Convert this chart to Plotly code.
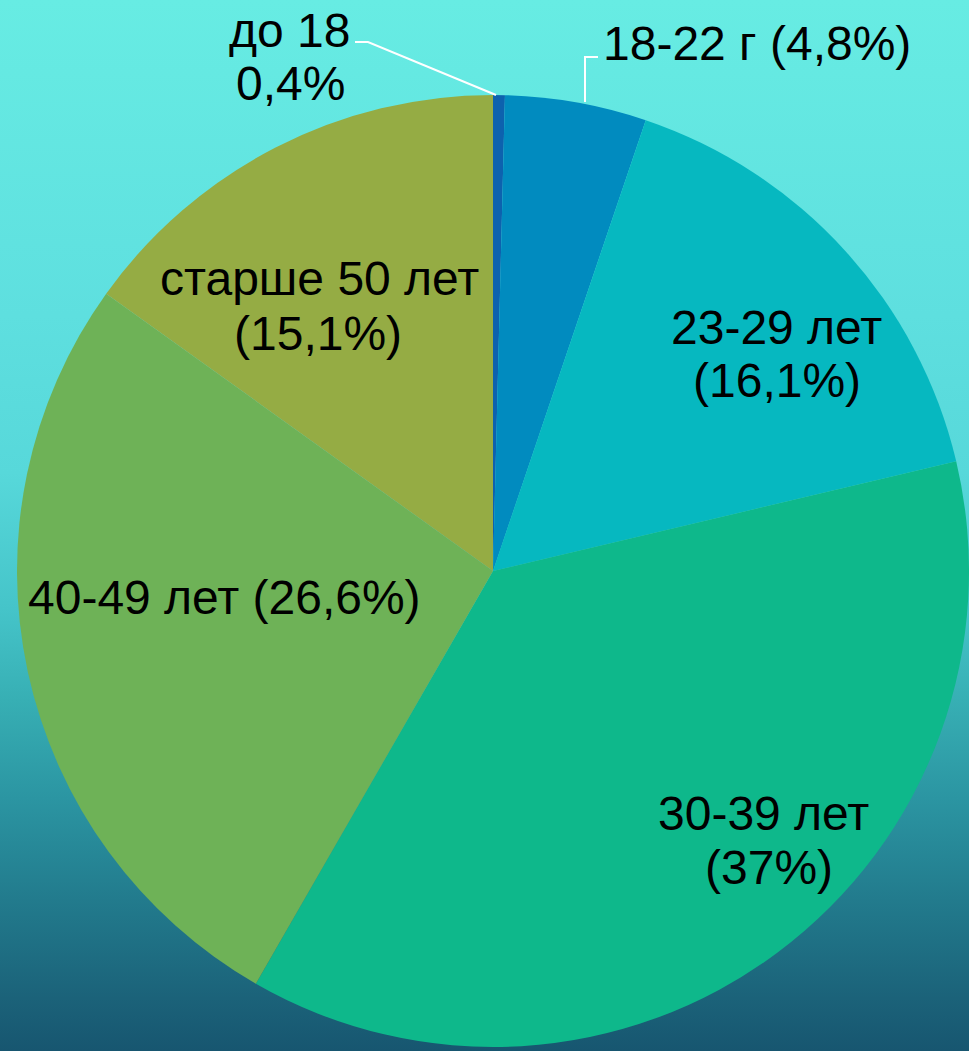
import plotly.graph_objects as go

# Данные
GROUPES = ['до 18', '18-22 г', '23-29 лет', '30-39 лет', '40-49 лет', 'старше 50 лет']
PARTS = [0.4, 4.8, 16.1, 37, 26.6, 15.1]
PARTS_TXT = ['0,4%', '(4,8%)', '(16,1%)', '(37%)', '(26,6%)', '(15,1%)']
SUR_DEUX_LIGNES = [True, False, True, True, False, True]

COULEURS = ['#0d62ae', '#018bbf', '#06b8c0', '#0eb88b', '#6eb257', '#95ac44']

W, H = 969, 1051
TAILLE = 48

# centres des étiquettes (px) : ligne 1, ligne 2
POS_ETIQ = [
    [(289, 31), (290, 84)],
    [(757, 43)],
    [(776, 327), (777, 381)],
    [(763, 813), (769, 867)],
    [(224, 597)],
    [(319, 278), (318, 333)],
]

fig = go.Figure()

# fond en dégradé
fig.add_trace(go.Scatter(
    x=[0, 1, 1, 0, 0], y=[0, 0, 1, 1, 0],
    mode='lines', line=dict(width=0), fill='toself',
    fillgradient=dict(type='vertical', start=0, stop=1, colorscale=[
        [0.0, '#175670'], [0.05, '#1b6279'], [0.144, '#227b8d'],
        [0.24, '#2b95a2'], [0.334, '#37afb4'], [0.42, '#45c4c9'],
        [0.55, '#57d8da'], [0.7, '#5edfdf'], [1.0, '#67ece3']]),
    hoverinfo='skip', showlegend=False))

cx, cy, r = 493, 571, 476
fig.add_trace(go.Pie(
    labels=GROUPES, values=PARTS, sort=False, direction='clockwise',
    marker=dict(colors=COULEURS, line=dict(width=0)),
    textinfo='none', hoverinfo='label+percent', showlegend=False,
    domain=dict(x=[(cx - r) / W, 1], y=[(H - cy - r) / H, (H - cy + r) / H])
))

for g, p, deux, pos in zip(GROUPES, PARTS_TXT, SUR_DEUX_LIGNES, POS_ETIQ):
    lignes = [g, p] if deux else [g + ' ' + p]
    for txt, (px_, py_) in zip(lignes, pos):
        fig.add_annotation(
            x=px_ / W, y=1 - py_ / H, xref='paper', yref='paper',
            text=txt, showarrow=False, align='center',
            xanchor='center', yanchor='middle', borderpad=0,
            font=dict(family='Arial, Liberation Sans, sans-serif', size=TAILLE, color='black'))

# lignes de rappel
def ligne(pts):
    path = 'M ' + ' L '.join(f'{x / W},{1 - y / H}' for x, y in pts)
    fig.add_shape(type='path', path=path, xref='paper', yref='paper',
                  line=dict(color='white', width=2))

ligne([(355, 42), (368, 42), (496, 95)])
ligne([(598, 57), (585, 57), (585, 102)])

fig.update_layout(
    width=W, height=H,
    margin=dict(l=0, r=0, t=0, b=0),
    paper_bgcolor='#5cdcdc', plot_bgcolor='rgba(0,0,0,0)',
    xaxis=dict(visible=False, range=[0, 1], domain=[0, 1], fixedrange=True),
    yaxis=dict(visible=False, range=[0, 1], domain=[0, 1], fixedrange=True),
)

fig.write_html("out.html", config={'displayModeBar': False},
               post_script="document.body.style.margin='0';document.body.style.overflow='hidden';")
